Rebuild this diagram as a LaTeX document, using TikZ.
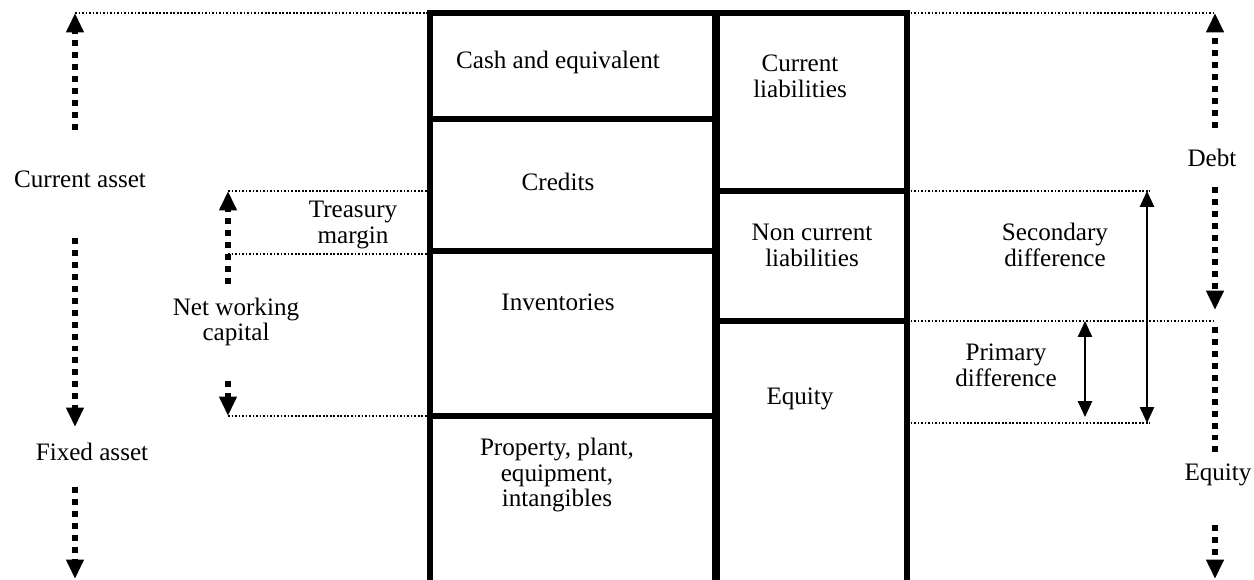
\documentclass[tikz,border=0pt]{standalone}
\usepackage{fontspec}
\setmainfont{Liberation Serif}
\usetikzlibrary{arrows.meta}

\begin{document}
\begin{tikzpicture}[x=0.02cm, y=-0.02cm,
		cell/.style={line width=3pt},
		guide/.style={line width=1pt, dash pattern=on 1pt off 1pt},
		span/.style={line width=3.3pt, dash pattern=on 3.4pt off 3.4pt, -{Triangle[width=9.5pt,length=11pt]}},
		bare/.style={line width=3.3pt, dash pattern=on 3.4pt off 3.4pt},
		gap/.style={line width=1.1pt, {Triangle[width=8pt,length=9pt]}-{Triangle[width=8pt,length=9pt]}},
		lbl/.style={font=\fontsize{14.3}{14.7}\selectfont, align=center, inner sep=0pt}]
		%%%%% START %%%%%
		
		\useasboundingbox (0,0) rectangle (1254,580);
		
		% assets column
		\draw[cell] (430,13) rectangle (715,119);
		\draw[cell] (430,119) rectangle (715,251);
		\draw[cell] (430,251) rectangle (715,416);
		\draw[cell] (430,416) rectangle (715,600);
		
		% liabilities column
		\draw[cell] (717,13) rectangle (907,191);
		\draw[cell] (717,191) rectangle (907,321);
		\draw[cell] (717,321) rectangle (907,600);
		
		\node[lbl] (cash) at (558,62) {Cash and equivalent};
		\node[lbl] (credits) at (558,182) {Credits};
		\node[lbl] (stock) at (558,302) {Inventories};
		\node[lbl] (ppe) at (557,475) {Property, plant,\\equipment,\\intangibles};
		\node[lbl] (curliab) at (800,76) {Current\\liabilities};
		\node[lbl] (ncliab) at (812,245) {Non current\\liabilities};
		\node[lbl] (equity) at (800,399) {Equity};
		
		% left side
		\node[lbl] (curasset) at (80,179) {Current asset};
		\node[lbl] (fixasset) at (92,452) {Fixed asset};
		\node[lbl] (treasury) at (353,225) {Treasury\\margin};
		\node[lbl] (nwc) at (236,322) {Net working\\capital};
		
		\coordinate (caTop) at (75,13);
		\coordinate (caA) at (75,130);
		\coordinate (caB) at (75,238);
		\coordinate (caC) at (75,427);
		\coordinate (faA) at (75,487);
		\coordinate (faB) at (75,579);
		\coordinate (nwcTop) at (228,191);
		\coordinate (tmBot) at (228,254);
		\coordinate (nwcA) at (228,284);
		\coordinate (nwcB) at (228,381);
		\coordinate (nwcBot) at (228,416);
		
		\draw[guide] (caTop) -- (430,13);
		\draw[guide] (nwcTop) -- (430,191);
		\draw[guide] (tmBot) -- (430,254);
		\draw[guide] (nwcBot) -- (430,416);
		
		\draw[span] (caA) -- (caTop);
		\draw[span] (caB) -- (caC);
		\draw[span] (faA) -- (faB);
		\draw[span] (nwcA) -- (nwcTop);
		\draw[span] (nwcB) -- (nwcBot);
		
		% right side
		\node[lbl] (debt) at (1212,158) {Debt};
		\node[lbl] (equityR) at (1218,475) {Equity};
		\node[lbl] (secdiff) at (1055,245) {Secondary\\difference};
		\node[lbl] (primdiff) at (1006,365) {Primary\\difference};
		
		\coordinate (dbTop) at (1215,13);
		\coordinate (dbA) at (1215,128);
		\coordinate (dbB) at (1215,187);
		\coordinate (dbC) at (1215,310);
		\coordinate (eqTop) at (1215,321);
		\coordinate (eqA) at (1215,327);
		\coordinate (eqB) at (1215,452);
		\coordinate (eqC) at (1215,525);
		\coordinate (eqD) at (1215,579);
		\coordinate (sdTop) at (1147,191);
		\coordinate (sdBot) at (1147,423);
		\coordinate (pdTop) at (1085,321);
		\coordinate (pdBot) at (1085,417);
		
		\draw[guide] (907,13) -- (dbTop);
		\draw[guide] (907,191) -- (1150,191);
		\draw[guide] (907,321) -- (eqTop);
		\draw[guide] (907,423) -- (1150,423);
		
		\draw[span] (dbA) -- (dbTop);
		\draw[span] (dbB) -- (dbC);
		\draw[bare] (eqA) -- (eqB);
		\draw[span] (eqC) -- (eqD);
		
		\draw[gap] (sdTop) -- (sdBot);
		\draw[gap] (pdTop) -- (pdBot);
		
		%%%%% END %%%%%
	\end{tikzpicture}
\end{document}
